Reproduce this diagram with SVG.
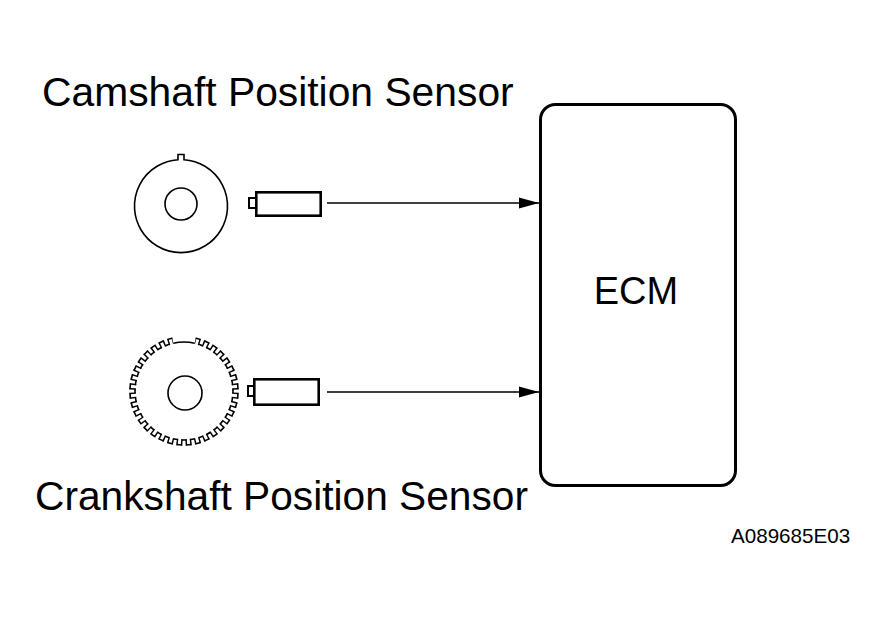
<svg xmlns="http://www.w3.org/2000/svg" width="887" height="619" viewBox="0 0 887 619">
<style>
.txt{font-family:"Liberation Sans",Arial,sans-serif;fill:#000}
.ln{fill:none;stroke:#000;stroke-width:1.6}
.sens{fill:#fff;stroke:#000;stroke-width:2.6}
.tab{fill:#fff;stroke:#000;stroke-width:2}
.conn{fill:none;stroke:#000;stroke-width:1.3}
</style>
<defs>
<marker id="arr" markerUnits="userSpaceOnUse" markerWidth="20" markerHeight="12" refX="20" refY="6" orient="auto">
<path d="M0,0.5 L20,6 L0,11.5 Z" fill="#000"/>
</marker>
</defs>
<rect width="887" height="619" fill="#fff"/>
<text class="txt" x="42" y="106" font-size="40.8">Camshaft Position Sensor</text>
<text class="txt" x="35" y="510" font-size="40.7">Crankshaft Position Sensor</text>
<text class="txt" x="731" y="543" font-size="20.6">A089685E03</text>
<g id="ecm">
<rect x="540.5" y="104.5" width="195" height="381" rx="15" fill="#fff" stroke="#000" stroke-width="3"/>
<text class="txt" x="636" y="304" font-size="38" text-anchor="middle">ECM</text>
</g>
<g id="cam-rotor">
<path class="ln" d="M178,159.7 L178,154.5 L184,154.5 L184,159.7 A46.5,46.5 0 1 1 178,159.7 Z"/>
<circle class="ln" cx="181" cy="204" r="16"/>
</g>
<g id="cam-sensor">
<rect class="tab" x="249" y="198" width="7" height="10"/>
<rect class="sens" x="256.3" y="192.3" width="64.4" height="23.4"/>
</g>
<g id="crank-rotor">
<path class="ln" d="M195.688,338.280 A54,54 0 1 1 172.312,338.280" pathLength="335" stroke-dasharray="5 5"/>
<path class="ln" d="M198.735,344.268 A49,49 0 1 1 173.394,343.161" pathLength="330" stroke-dasharray="5 5"/>
<path class="ln" d="M173.394,343.161 A49,49 0 0 1 194.606,343.161"/>
<path d="M195.147,340.721 A51.5,51.5 0 1 1 172.853,340.721" pathLength="335" fill="none" stroke="#000" stroke-width="6.6" stroke-dasharray="1.6 3.4" stroke-dashoffset="0.8"/>
<circle class="ln" cx="185" cy="393" r="17"/>
</g>
<g id="crank-sensor">
<rect class="tab" x="248" y="386" width="7" height="10"/>
<rect class="sens" x="254.3" y="379.3" width="64.4" height="25.4"/>
</g>
<g id="connectors">
<line class="conn" x1="327" y1="203" x2="539" y2="203" marker-end="url(#arr)"/>
<line class="conn" x1="327" y1="392" x2="539" y2="392" marker-end="url(#arr)"/>
</g>
</svg>
